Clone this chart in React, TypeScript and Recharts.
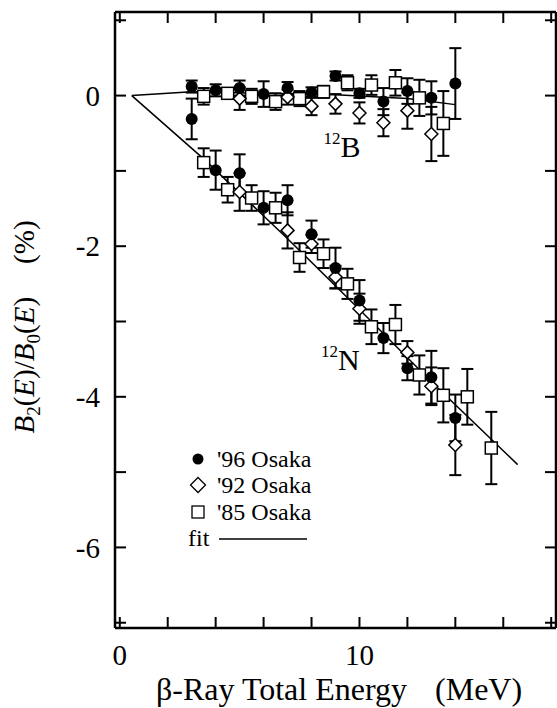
import React from 'react';
import { ComposedChart, XAxis, YAxis, Scatter, Line, ErrorBar, Legend, ReferenceDot } from 'recharts';

const serif = '"Liberation Serif", "Times New Roman", serif';

// axis ticks
const xTicks = [0, 2, 4, 6, 8, 10, 12, 14, 16, 18];
const xLabels = [0, 10];
const yTicks = [-7, -6, -5, -4, -3, -2, -1, 0, 1];
const yLabels = [0, -2, -4, -6];

// '96 Osaka
const b96Energy = [3, 4, 5, 6, 7, 8, 9, 10, 11, 12, 13, 14];
const b96Value = [0.12, 0.07, 0.1, 0.02, 0.1, 0.04, 0.26, 0.03, -0.08, 0.06, -0.03, 0.16];
const b96Error = [0.08, 0.08, 0.1, 0.17, 0.08, 0.07, 0.06, 0.06, 0.18, 0.17, 0.22, 0.47];
const n96Energy = [3, 4, 5, 6, 7, 8, 9, 10, 11, 12, 13, 14];
const n96Value = [-0.31, -0.99, -1.03, -1.49, -1.39, -1.84, -2.29, -2.72, -3.22, -3.62, -3.74, -4.28];
const n96Error = [0.27, 0.26, 0.25, 0.22, 0.2, 0.18, 0.27, 0.27, 0.2, 0.16, 0.35, 0.31];

// '92 Osaka
const b92Energy = [5, 7, 8, 9, 10, 11, 12, 13];
const b92Value = [-0.04, -0.02, -0.14, -0.11, -0.23, -0.36, -0.2, -0.51];
const b92Error = [0.15, 0.1, 0.12, 0.13, 0.14, 0.18, 0.24, 0.36];
const n92Energy = [5, 7, 8, 9, 10, 12, 13, 14];
const n92Value = [-1.28, -1.79, -1.97, -2.41, -2.83, -3.41, -3.86, -4.64];
const n92Error = [0.25, 0.24, 0.12, 0.15, 0.2, 0.15, 0.25, 0.4];

// '85 Osaka
const b85Energy = [3.5, 4.5, 5.5, 6.5, 7.5, 8.5, 9.5, 10.5, 11.5, 12.5, 13.5];
const b85Value = [-0.01, 0.03, -0.01, -0.08, -0.04, 0.05, 0.17, 0.14, 0.17, -0.03, -0.37];
const b85Error = [0.11, 0.07, 0.1, 0.11, 0.1, 0.08, 0.1, 0.13, 0.17, 0.24, 0.43];
const n85Energy = [3.5, 4.5, 5.5, 6.5, 7.5, 8.5, 9.5, 10.5, 11.5, 12.5, 13.5, 14.5, 15.5];
const n85Value = [-0.89, -1.25, -1.36, -1.49, -2.15, -2.1, -2.5, -3.07, -3.04, -3.71, -3.98, -4.0, -4.68];
const n85Error = [0.19, 0.17, 0.17, 0.2, 0.19, 0.19, 0.2, 0.23, 0.26, 0.26, 0.36, 0.37, 0.48];

// fits
const fitBEnergy = [0.5, 3, 6, 9, 12, 14];
const fitBValue = [0, 0.05, 0.03, 0.01, -0.04, -0.12];
const fitNEnergy = [0.5, 3.5, 7, 10, 13, 16.6];
const fitNValue = [0, -0.84, -1.9, -2.84, -3.8, -4.9];

const points = (e: number[], v: number[], err?: number[]) =>
  e.map((x, i) => ({ x, y: v[i], err: err ? err[i] : 0 }));

const data96 = [...points(b96Energy, b96Value, b96Error), ...points(n96Energy, n96Value, n96Error)];
const data92 = [...points(b92Energy, b92Value, b92Error), ...points(n92Energy, n92Value, n92Error)];
const data85 = [...points(b85Energy, b85Value, b85Error), ...points(n85Energy, n85Value, n85Error)];
const fitB = points(fitBEnergy, fitBValue);
const fitN = points(fitNEnergy, fitNValue);

const Circle = (p: any) => <circle cx={p.cx} cy={p.cy} r={6} fill="#000" />;
const Diamond = (p: any) => (
  <path
    d={`M${p.cx},${p.cy - 6.5}L${p.cx + 6.5},${p.cy}L${p.cx},${p.cy + 6.5}L${p.cx - 6.5},${p.cy}Z`}
    fill="#fff"
    stroke="#000"
    strokeWidth={1.5}
  />
);
const Square = (p: any) => (
  <rect x={p.cx - 6} y={p.cy - 6} width={12} height={12} fill="#fff" stroke="#000" strokeWidth={1.5} />
);

const Nucleus = (name: string) => (p: any) => (
  <text x={p.cx} y={p.cy} fontFamily={serif} fill="#000">
    <tspan fontSize={17} dy={-13}>12</tspan>
    <tspan fontSize={30} dy={13}>{name}</tspan>
  </text>
);

const YTitle = ({ viewBox }: any) => {
  const cx = viewBox.x + 34;
  const cy = viewBox.y + viewBox.height / 2 + 7;
  return (
    <text x={cx} y={cy} transform={`rotate(-90, ${cx}, ${cy})`} textAnchor="middle" fontFamily={serif} fontSize={29} fill="#000">
      <tspan fontStyle="italic">B</tspan>
      <tspan fontSize={19} dy={6}>2</tspan>
      <tspan dy={-6}>(</tspan>
      <tspan fontStyle="italic">E</tspan>
      <tspan>)/</tspan>
      <tspan fontStyle="italic">B</tspan>
      <tspan fontSize={19} dy={6}>0</tspan>
      <tspan dy={-6}>(</tspan>
      <tspan fontStyle="italic">E</tspan>
      <tspan>)</tspan>
      <tspan dx={33}>(%)</tspan>
    </text>
  );
};

const XTitle = ({ viewBox }: any) => (
  <text x={viewBox.x + 41} y={viewBox.y + 72} fontFamily={serif} fontSize={32} fill="#000">
    <tspan>β-Ray Total Energy</tspan>
    <tspan dx={28}>(MeV)</tspan>
  </text>
);

const legendRows = [
  { label: "'96 Osaka", icon: <circle cx={18} cy={13} r={5.5} fill="#000" /> },
  { label: "'92 Osaka", icon: <path d="M18,5.5L25.5,13L18,20.5L10.5,13Z" fill="#fff" stroke="#000" strokeWidth={1.3} /> },
  { label: "'85 Osaka", icon: <rect x={12} y={7} width={12} height={12} fill="#fff" stroke="#000" strokeWidth={1.3} /> },
];

const LegendBox = () => (
  <div style={{ fontFamily: serif, fontSize: 24, color: '#000', lineHeight: '26px' }}>
    {legendRows.map((r) => (
      <div key={r.label} style={{ display: 'flex', alignItems: 'center', height: 26.3 }}>
        <svg width={36} height={26}>{r.icon}</svg>
        <span style={{ marginLeft: 1 }}>{r.label}</span>
      </div>
    ))}
    <div style={{ display: 'flex', alignItems: 'center', height: 26.3 }}>
      <span style={{ marginLeft: 8 }}>fit</span>
      <svg width={100} height={26}>
        <line x1={10} y1={14} x2={98} y2={14} stroke="#000" strokeWidth={1.5} />
      </svg>
    </div>
  </div>
);

const axisLine = { stroke: '#000', strokeWidth: 2.5 };
const tickLine = { stroke: '#000', strokeWidth: 2 };
const tickFont = { fontFamily: serif, fontSize: 29, fill: '#000' };

export default function App() {
  return (
    <div style={{ position: 'absolute', left: 0, top: 0, width: 557, height: 708, background: '#fff' }}>
      <ComposedChart width={557} height={708} margin={{ top: 11, right: 0, left: 0, bottom: 0 }}>
        <XAxis
          type="number"
          dataKey="x"
          domain={[-0.2, 18.2]}
          ticks={xTicks}
          allowDataOverflow
          tickSize={-11}
          tickMargin={27}
          height={80}
          axisLine={axisLine}
          tickLine={tickLine}
          tick={tickFont}
          tickFormatter={(v: number) => (xLabels.includes(v) ? String(v) : '')}
          label={{ content: XTitle }}
        />
        <XAxis
          xAxisId="top"
          orientation="top"
          type="number"
          dataKey="x"
          domain={[-0.2, 18.2]}
          ticks={xTicks}
          allowDataOverflow
          tickSize={-11}
          height={1}
          axisLine={axisLine}
          tickLine={tickLine}
          tickFormatter={() => ''}
        />
        <YAxis
          type="number"
          domain={[-7.07, 1.11]}
          ticks={yTicks}
          allowDataOverflow
          tickSize={-11}
          tickMargin={26}
          width={115}
          axisLine={axisLine}
          tickLine={tickLine}
          tick={tickFont}
          tickFormatter={(v: number) => (yLabels.includes(v) ? String(v) : '')}
          label={{ content: YTitle }}
        />
        <YAxis
          yAxisId="right"
          orientation="right"
          type="number"
          domain={[-7.07, 1.11]}
          ticks={yTicks}
          allowDataOverflow
          tickSize={-11}
          width={1}
          axisLine={axisLine}
          tickLine={tickLine}
          tickFormatter={() => ''}
        />
        <Scatter data={data85} dataKey="y" shape={Square} isAnimationActive={false}>
          <ErrorBar dataKey="err" direction="y" width={6} strokeWidth={2} stroke="#000" />
        </Scatter>
        <Scatter data={data92} dataKey="y" shape={Diamond} isAnimationActive={false}>
          <ErrorBar dataKey="err" direction="y" width={6} strokeWidth={2} stroke="#000" />
        </Scatter>
        <Scatter data={data96} dataKey="y" shape={Circle} isAnimationActive={false}>
          <ErrorBar dataKey="err" direction="y" width={6} strokeWidth={2} stroke="#000" />
        </Scatter>
        <Line data={fitB} dataKey="y" xAxisId="top" yAxisId="right" type="linear" dot={false} stroke="#000" strokeWidth={1.5} isAnimationActive={false} />
        <Line data={fitN} dataKey="y" xAxisId="top" yAxisId="right" type="linear" dot={false} stroke="#000" strokeWidth={1.5} isAnimationActive={false} />
        <ReferenceDot x={8.5} y={-0.81} r={1} ifOverflow="visible" shape={Nucleus('B')} />
        <ReferenceDot x={8.4} y={-3.65} r={1} ifOverflow="visible" shape={Nucleus('N')} />
        <Legend
          layout="vertical"
          verticalAlign="middle"
          align="center"
          content={LegendBox}
          wrapperStyle={{ left: 180, top: 446, width: 150, height: 106 }}
        />
      </ComposedChart>
    </div>
  );
}
